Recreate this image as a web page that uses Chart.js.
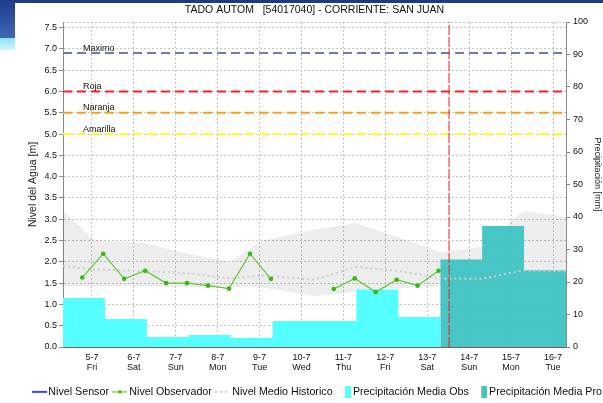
<!DOCTYPE html>
<html><head><meta charset="utf-8">
<script src="https://cdn.jsdelivr.net/npm/chart.js@4.4.1/dist/chart.umd.min.js"></script>
<style>
html,body{margin:0;padding:0;background:#fff;width:603px;height:403px;overflow:hidden;}
#wrap{position:relative;width:603px;height:403px;}
.topbar{position:absolute;left:0;top:0;width:603px;height:3px;background:#1c3a86;}
.sideblue{position:absolute;left:0;top:0;width:15px;height:38px;background:linear-gradient(#1d3c8c,#3d68b4);}
.sidecyan{position:absolute;left:0;top:38px;width:15px;height:12px;background:linear-gradient(#8fe3f5,#cdf5fd);}
canvas{position:absolute;left:0;top:0;}
</style></head>
<body><div id="wrap"><div class="topbar"></div><div class="sideblue"></div><div class="sidecyan"></div><canvas id="c" width="603" height="403"></canvas></div>
<script>
// ---------- data ----------
const chartTitle = 'TADO AUTOM   [54017040] - CORRIENTE: SAN JUAN';
const xRange = [4.31, 16.31];                 // days of July
const dayTicks = [5, 6, 7, 8, 9, 10, 11, 12, 13, 14, 15, 16];
const tickDates = ['5-7','6-7','7-7','8-7','9-7','10-7','11-7','12-7','13-7','14-7','15-7','16-7'];
const tickWeekdays = ['Fri','Sat','Sun','Mon','Tue','Wed','Thu','Fri','Sat','Sun','Mon','Tue'];
const levelTicks = [0, 0.5, 1, 1.5, 2, 2.5, 3, 3.5, 4, 4.5, 5, 5.5, 6, 6.5, 7, 7.5];
const levelMax = 7.63;
const precipMax = 100;

const thresholdNames = ['Maximo', 'Roja', 'Naranja', 'Amarilla'];
const thresholdLevels = [6.9, 6.0, 5.5, 5.0];
const thresholdColors = ['#6e7daa', '#ff1e1e', '#ff9a1e', '#ffff20'];

const sensorTimes = [];
const sensorLevels = [];

const obsTimes = [4.77, 5.27, 5.77, 6.27, 6.77, 7.27, 7.77, 8.27, 8.77, 9.27, 9.77, 10.27, 10.77, 11.27, 11.77, 12.27, 12.77, 13.27];
const obsLevels = [1.63, 2.19, 1.60, 1.79, 1.50, 1.50, 1.44, 1.37, 2.19, 1.60, null, null, 1.36, 1.61, 1.29, 1.58, 1.44, 1.79];

const histTimes  = [4.31, 5.05, 6.30, 7.30, 8.30, 9.05, 10.30, 11.30, 12.30, 13.30, 14.30, 15.30, 16.31];
const histUpper  = [3.21, 2.52, 2.43, 2.19, 2.00, 2.50, 2.75, 2.91, 2.58, 2.23, 2.35, 3.20, 3.05];
const histLower  = [1.42, 1.42, 1.42, 1.41, 1.40, 1.40, 1.19, 1.30, 1.38, 1.42, 1.35, 1.28, 1.21];
const histMedian = [1.90, 1.82, 1.78, 1.73, 1.61, 1.68, 1.58, 1.88, 1.79, 1.61, 1.60, 1.80, 1.78];

const precipObsTimes  = [4.31, 5.31, 6.31, 7.31, 8.31, 9.31, 10.31, 11.31, 12.31, 13.31];
const precipObsValues = [15.1, 8.6, 3.1, 3.7, 2.8, 8.0, 8.0, 17.7, 9.2];
const precipProTimes  = [13.31, 14.31, 15.31, 16.31];
const precipProValues = [26.9, 37.2, 23.6];

const nowTime = 13.52;

const legendNames = ['Nivel Sensor', 'Nivel Observador', 'Nivel Medio Historico', 'Precipitación Media Obs', 'Precipitación Media Pro'];

// ---------- helpers ----------
const FONT = "'Liberation Sans', Arial, sans-serif";
const pts = (xs, ys) => xs.map((x, i) => ({x: x, y: ys[i]}));
const steps = (xs, ys) => xs.map((x, i) => ({x: x, y: ys[Math.min(i, ys.length - 1)]}));

const COL = {
  sensor: '#0000ff', obsLine: '#5cc832', obsPoint: '#3cb414', median: '#cdcdcd',
  band: 'rgba(0,0,0,0.07)', precipObs: '#55ffff', precipPro: 'rgba(62,194,194,0.95)',
  grid: '#c4c4c4', axis: '#8a8a8a', now: '#f01818'
};

function makeIcon(draw) {
  const c = document.createElement('canvas'); c.width = 15; c.height = 12;
  const g = c.getContext('2d'); draw(g); return c;
}
const legendIcons = [
  makeIcon(g => { g.strokeStyle = COL.sensor; g.lineWidth = 1.5; g.beginPath(); g.moveTo(0, 6); g.lineTo(15, 6); g.stroke(); }),
  makeIcon(g => { g.strokeStyle = COL.obsLine; g.lineWidth = 1.2; g.beginPath(); g.moveTo(0, 6); g.lineTo(15, 6); g.stroke(); g.fillStyle = COL.obsPoint; g.fillRect(6, 4.5, 3, 3); }),
  makeIcon(g => { g.strokeStyle = COL.median; g.lineWidth = 2; g.setLineDash([2, 3]); g.beginPath(); g.moveTo(0, 6); g.lineTo(15, 6); g.stroke(); }),
  makeIcon(g => { g.fillStyle = COL.precipObs; g.fillRect(9, 0, 6, 12); }),
  makeIcon(g => { g.fillStyle = '#46c4c4'; g.fillRect(9, 0, 6, 12); })
];

const datasets = [
  { label: 'now', data: pts([nowTime, nowTime], [0, levelMax]), yAxisID: 'y', borderColor: COL.now, borderWidth: 1,
    borderDash: [10, 2], pointRadius: 0, order: -1 },
  { label: legendNames[0], data: pts(sensorTimes, sensorLevels), yAxisID: 'y', borderColor: COL.sensor, borderWidth: 1.5, pointRadius: 0, order: 0 },
  { label: legendNames[1], data: pts(obsTimes, obsLevels), yAxisID: 'y', borderColor: COL.obsLine, borderWidth: 1.2,
    pointRadius: 2.3, pointBackgroundColor: COL.obsPoint, pointBorderColor: COL.obsPoint, pointBorderWidth: 0, spanGaps: false, order: 1 },
  { label: legendNames[2], data: pts(histTimes, histMedian), yAxisID: 'y', borderColor: COL.median, borderWidth: 2, borderDash: [2, 3], pointRadius: 0, order: 2 }
];
thresholdNames.forEach((n, i) => {
  datasets.push({ label: n, data: pts(xRange, [thresholdLevels[i], thresholdLevels[i]]), yAxisID: 'y',
    borderColor: thresholdColors[i], borderWidth: 2, borderDash: [9, 5], pointRadius: 0, order: 3 });
});
datasets.push(
  { label: legendNames[4], data: steps(precipProTimes, precipProValues), yAxisID: 'y2', stepped: true, fill: 'origin',
    backgroundColor: COL.precipPro, borderColor: 'rgba(0,0,0,0)', borderWidth: 0, pointRadius: 0, order: 5 },
  { label: legendNames[3], data: steps(precipObsTimes, precipObsValues), yAxisID: 'y2', stepped: true, fill: 'origin',
    backgroundColor: COL.precipObs, borderColor: 'rgba(0,0,0,0)', borderWidth: 0, pointRadius: 0, order: 6 },
  { label: 'hist-max', data: pts(histTimes, histUpper), yAxisID: 'y', fill: '+1', backgroundColor: COL.band,
    borderColor: 'rgba(0,0,0,0)', borderWidth: 0, pointRadius: 0, order: 7 },
  { label: 'hist-min', data: pts(histTimes, histLower), yAxisID: 'y', fill: false,
    borderColor: 'rgba(0,0,0,0)', borderWidth: 0, pointRadius: 0, order: 8 }
);

const overlayPlugin = {
  id: 'overlay',
  afterLayout(chart) {
    const lg = chart.legend;
    if (lg) { lg.left += 28; lg.right += 28; const dy = 379.5 - lg.top; lg.top += dy; lg.bottom += dy; }
  },
  afterDatasetsDraw(chart) {
    const ctx = chart.ctx, ys = chart.scales.y, a = chart.chartArea;
    ctx.save();
    ctx.font = '9px ' + FONT; ctx.fillStyle = '#111'; ctx.textAlign = 'left'; ctx.textBaseline = 'middle';
    thresholdNames.forEach((n, i) => {
      ctx.fillText(n, a.left + 20, ys.getPixelForValue(thresholdLevels[i]) - 5);
    });
    ctx.restore();
  }
};

Chart.defaults.font.family = FONT;
Chart.defaults.color = '#111';

new Chart(document.getElementById('c'), {
  type: 'line',
  data: { datasets: datasets },
  plugins: [overlayPlugin],
  options: {
    responsive: false, animation: false, devicePixelRatio: 1, events: [],
    layout: { padding: 0 },
    plugins: {
      tooltip: { enabled: false },
      title: { display: true, text: chartTitle, fullSize: false, color: '#111',
        font: { size: 10.5, weight: 'normal' }, padding: { top: 3.7, bottom: 5.7 } },
      legend: {
        position: 'bottom', align: 'start',
        labels: {
          usePointStyle: true, boxWidth: 8, boxHeight: 11, padding: 7, color: '#111',
          font: { size: 10.7 },
          generateLabels: () => legendNames.map((t, i) => ({
            text: t, pointStyle: legendIcons[i], fillStyle: 'rgba(0,0,0,0)', strokeStyle: 'rgba(0,0,0,0)',
            lineWidth: 0, hidden: false, datasetIndex: i + 1, fontColor: '#111'
          }))
        }
      }
    },
    scales: {
      x: {
        type: 'linear', min: xRange[0], max: xRange[1],
        afterBuildTicks: s => { s.ticks = dayTicks.map(v => ({value: v})); },
        afterFit: s => { s.height = 403 - 347 - s.chart.legend.height; },
        ticks: { autoSkip: false, maxRotation: 0, padding: 5, color: '#111',
          font: { size: 9, lineHeight: 1.18 },
          callback: v => { const i = dayTicks.indexOf(v); return i < 0 ? '' : [tickDates[i], tickWeekdays[i]]; } },
        grid: { color: COL.grid, drawTicks: false, tickBorderDash: [] },
        border: { color: '#666', dash: [2, 2] }
      },
      y: {
        position: 'left', min: 0, max: levelMax,
        afterBuildTicks: s => { s.ticks = levelTicks.map(v => ({value: v})); },
        afterFit: s => { s.width = 63; },
        ticks: { padding: 2, color: '#111', font: { size: 9 }, callback: v => Number(v).toFixed(1) },
        grid: { color: COL.grid, tickColor: COL.axis, tickLength: 4, tickBorderDash: [] },
        border: { color: COL.axis, dash: [2, 2] },
        title: { display: true, text: 'Nivel del Agua [m]', color: '#222', font: { size: 10.5 }, padding: { top: 26.7, bottom: 0 } }
      },
      y2: {
        position: 'right', min: 0, max: precipMax,
        ticks: { stepSize: 10, padding: 3, color: '#111', font: { size: 9 } },
        afterFit: s => { s.width = 37; },
        grid: { drawOnChartArea: true, color: c => (c.tick && c.tick.value === precipMax ? COL.grid : 'rgba(0,0,0,0)'),
          tickColor: COL.axis, tickLength: 4, tickBorderDash: [] },
        border: { color: COL.axis, dash: [2, 2] },
        title: { display: true, text: 'Precipitación [mm]        ', color: '#222', font: { size: 9 }, padding: { top: 0, bottom: 0 } }
      }
    }
  }
});
</script>
</body></html>
